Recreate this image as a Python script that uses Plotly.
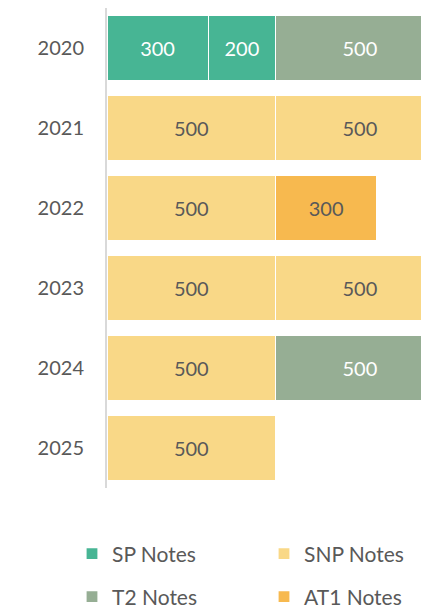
import plotly.graph_objects as go

years = ["2020", "2021", "2022", "2023", "2024", "2025"]

# stacked segments (left to right) per series
sp_first_years = ["2020"]
sp_first_vals = [300]
snp_first_years = ["2021", "2022", "2023", "2024", "2025"]
snp_first_vals = [500, 500, 500, 500, 500]
sp_second_years = ["2020"]
sp_second_vals = [200]
snp_second_years = ["2021", "2023"]
snp_second_vals = [500, 500]
at1_years = ["2022"]
at1_vals = [300]
t2_years = ["2020", "2024"]
t2_vals = [500, 500]

C_SP = "#47B594"
C_SNP = "#F9D887"
C_T2 = "#96AE94"
C_AT1 = "#F7B94F"
DARK = "#595959"
FONT = "Lato"

# the page body keeps its default 8px margin, so the figure is 8px smaller
W, H = 421, 600
OFF = 8

fig = go.Figure()

def add(name, ys, xs, color, tcolor, show, legend):
    fig.add_trace(go.Bar(
        y=ys, x=xs, orientation="h", name=name,
        marker=dict(color=color, line=dict(color="white", width=1.2)),
        text=[str(v) for v in xs], textposition="inside",
        insidetextanchor="middle", textangle=0,
        textfont=dict(color=tcolor, size=20, family=FONT),
        legendgroup=name, showlegend=show, legend=legend,
    ))

add("SP Notes", sp_first_years, sp_first_vals, C_SP, "white", True, "legend")
add("SNP Notes", snp_first_years, snp_first_vals, C_SNP, DARK, True, "legend2")
add("SP Notes", sp_second_years, sp_second_vals, C_SP, "white", False, "legend")
add("SNP Notes", snp_second_years, snp_second_vals, C_SNP, DARK, False, "legend2")
add("AT1 Notes", at1_years, at1_vals, C_AT1, DARK, True, "legend4")
add("T2 Notes", t2_years, t2_vals, C_T2, "white", True, "legend3")

def leg(px, py):
    return dict(
        orientation="h", xref="container", yref="container",
        x=(px - OFF) / W, y=1 - (py - OFF) / H,
        xanchor="left", yanchor="middle",
        font=dict(size=21, color=DARK, family=FONT), itemwidth=30,
        bgcolor="rgba(0,0,0,0)",
    )

fig.update_layout(
    width=W, height=H,
    margin=dict(l=99, r=0, t=0, b=120, autoexpand=False),
    barmode="stack", bargap=0.19,
    plot_bgcolor="white", paper_bgcolor="white",
    font=dict(family=FONT, color=DARK, size=20),
    xaxis=dict(range=[0, 955], visible=False, showgrid=False, zeroline=False),
    yaxis=dict(
        type="category", categoryorder="array", categoryarray=years,
        autorange="reversed", showgrid=False, zeroline=False,
        showline=True, linecolor="#D9D9D9", linewidth=2,
        ticks="", ticklabelstandoff=17,
        tickfont=dict(size=20, color=DARK, family=FONT),
    ),
    legend=leg(72, 554),
    legend2=leg(264, 554),
    legend3=leg(72, 597),
    legend4=leg(264, 597),
)

fig.write_html("out.html")
